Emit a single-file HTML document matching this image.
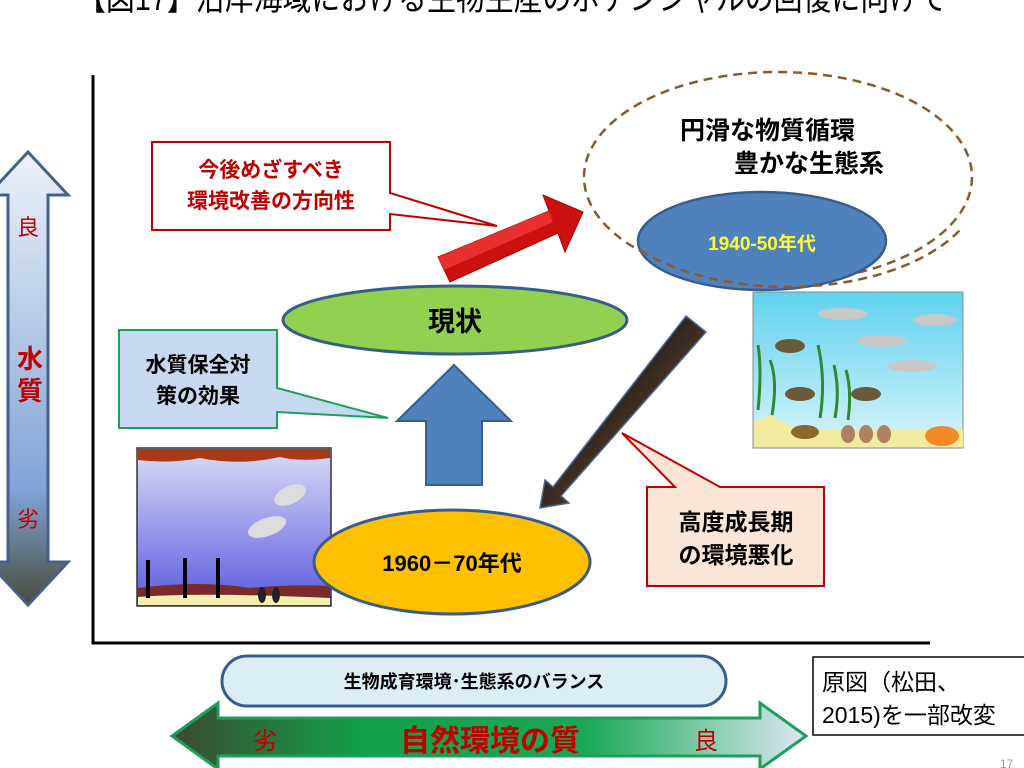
<!DOCTYPE html>
<html><head><meta charset="utf-8"><style>
html,body{margin:0;padding:0;background:#fff;width:1024px;height:768px;overflow:hidden}
svg{display:block}
text{font-family:"Liberation Sans","Noto Sans CJK JP",sans-serif;font-weight:bold}
text.n{font-weight:normal}
</style></head><body>
<svg width="1024" height="768" viewBox="0 0 1024 768" xmlns="http://www.w3.org/2000/svg">
<defs>
<linearGradient id="vg" x1="0" y1="0" x2="0" y2="1">
<stop offset="0" stop-color="#eef2fa"/><stop offset="0.75" stop-color="#7fa3d6"/><stop offset="1" stop-color="#4a4a3a"/></linearGradient>
<linearGradient id="hg" x1="0" y1="0" x2="1" y2="0">
<stop offset="0" stop-color="#3a4a30"/><stop offset="0.3" stop-color="#12a04a"/><stop offset="0.65" stop-color="#18a855"/><stop offset="1" stop-color="#dde8f2"/></linearGradient>
<linearGradient id="lw" x1="0" y1="0" x2="0" y2="1">
<stop offset="0" stop-color="#dcdcf6"/><stop offset="1" stop-color="#5a5ae0"/></linearGradient>
<linearGradient id="rw" x1="0" y1="0" x2="0" y2="1">
<stop offset="0" stop-color="#5fd2ee"/><stop offset="1" stop-color="#d8f4fb"/></linearGradient>
<linearGradient id="dg" x1="0" y1="0" x2="1" y2="1">
<stop offset="0" stop-color="#555a66"/><stop offset="0.4" stop-color="#222"/><stop offset="1" stop-color="#b05a1a"/></linearGradient>
</defs>
<text class="n" x="512" y="10" font-size="34" text-anchor="middle" fill="#000" textLength="870" lengthAdjust="spacingAndGlyphs">【図17】沿岸海域における生物生産のポテンシャルの回復に向けて</text>

<polygon points="28,152 68,195 48,195 48,562 68,562 28,605 -12,562 8,562 8,195 -12,195" fill="url(#vg)" stroke="#44618c" stroke-width="3"/>
<text class="n" x="28" y="235" font-size="22" fill="#c00000" text-anchor="middle">良</text>
<text x="30" y="368" font-size="26" fill="#c00000" text-anchor="middle">水</text>
<text x="30" y="400" font-size="26" fill="#c00000" text-anchor="middle">質</text>
<text class="n" x="28" y="527" font-size="22" fill="#c00000" text-anchor="middle">劣</text>

<polyline points="93,75 93,643 930,643" fill="none" stroke="#000" stroke-width="3"/>

<ellipse cx="778" cy="177" rx="194" ry="105" fill="none" stroke="#8b5a2b" stroke-width="2.5" stroke-dasharray="9,6"/>
<text x="680" y="139" font-size="25" fill="#000">円滑な物質循環</text>
<text x="734" y="172" font-size="25" fill="#000">豊かな生態系</text>
<ellipse cx="762" cy="241" rx="124" ry="49" fill="#4f81bd" stroke="#385d8a" stroke-width="2.5"/>
<path d="M640,250 A194,105 0 0 0 960,230" fill="none" stroke="#8b5a2b" stroke-width="2.5" stroke-dasharray="9,6"/>
<text x="762" y="250" font-size="19" fill="#ffff33" text-anchor="middle">1940-50年代</text>

<path d="M152,142 H390 V193 L497,226 L390,214 V230 H152 Z" fill="#fff" stroke="#c00000" stroke-width="2"/>
<text x="271" y="177" font-size="21" fill="#c00000" text-anchor="middle">今後めざすべき</text>
<text x="271" y="208" font-size="21" fill="#c00000" text-anchor="middle">環境改善の方向性</text>

<polygon points="438,257 549,211 543,195 583,212 565,252 558,233 450,282" fill="#cc1010" stroke="#a00" stroke-width="1"/>
<polygon points="438,257 549,211 553,222 444,270" fill="#e83030"/>

<ellipse cx="455" cy="320" rx="172" ry="34" fill="#92d050" stroke="#385d8a" stroke-width="3"/>
<text x="455" y="331" font-size="27" fill="#000" text-anchor="middle">現状</text>

<path d="M119,330 H277 V388 L388,418 L277,412 V428 H119 Z" fill="#c6d9f1" stroke="#1aa058" stroke-width="2"/>
<text x="198" y="372" font-size="21" fill="#000" text-anchor="middle">水質保全対</text>
<text x="198" y="403" font-size="21" fill="#000" text-anchor="middle">策の効果</text>

<polygon points="454,365 511,421 482,421 482,485 426,485 426,421 397,421" fill="#4f81bd" stroke="#385d8a" stroke-width="2"/>

<polygon points="686,316 706,332 561,496 569,503 540,508 545,480 553,487" fill="url(#dg)" stroke="#4a6a9a" stroke-width="1.5"/>

<path d="M647,487 H675 L622,433 L720,487 H824 V586 H647 Z" fill="#fbe5d6" stroke="#c00000" stroke-width="2"/>
<text x="736" y="530" font-size="23" fill="#000" text-anchor="middle">高度成長期</text>
<text x="736" y="563" font-size="23" fill="#000" text-anchor="middle">の環境悪化</text>

<rect x="137" y="448" width="194" height="158" fill="url(#lw)" stroke="#333" stroke-width="1.5"/>
<path d="M138,449 H330 V458 Q300,462 280,457 Q240,466 200,458 Q170,464 138,460 Z" fill="#a83a18"/>
<path d="M138,588 Q200,580 250,588 Q290,584 330,586 V605 H138 Z" fill="#7a2a2a"/>
<path d="M138,597 Q200,592 330,598 V605 H138 Z" fill="#f4f0b0"/>
<g stroke="#000" stroke-width="4"><line x1="148" y1="560" x2="148" y2="598"/><line x1="185" y1="558" x2="185" y2="598"/><line x1="218" y1="558" x2="218" y2="598"/></g>
<ellipse cx="262" cy="595" rx="4" ry="8" fill="#222"/><ellipse cx="276" cy="595" rx="4" ry="8" fill="#222"/>
<ellipse cx="290" cy="495" rx="17" ry="9" fill="#ddd" transform="rotate(-25 290 495)"/>
<ellipse cx="267" cy="527" rx="20" ry="9" fill="#ddd" transform="rotate(-20 267 527)"/>

<rect x="753" y="292" width="210" height="156" fill="url(#rw)" stroke="#888" stroke-width="1"/>
<path d="M754,422 L770,415 L800,430 Q860,428 963,430 V447 H754 Z" fill="#f1eba0"/>
<g stroke="#2d8a2d" stroke-width="3" fill="none"><path d="M758,410 Q762,370 758,345"/><path d="M772,415 Q778,380 770,360"/><path d="M820,418 Q826,380 818,345"/><path d="M835,418 Q840,390 834,365"/><path d="M848,420 Q852,390 846,370"/></g>
<g fill="#c8c8c8"><ellipse cx="843" cy="314" rx="25" ry="6"/><ellipse cx="935" cy="320" rx="22" ry="6"/><ellipse cx="882" cy="341" rx="25" ry="6"/><ellipse cx="912" cy="366" rx="25" ry="6"/></g>
<g fill="#6a5a3a"><ellipse cx="790" cy="346" rx="15" ry="7"/><ellipse cx="800" cy="394" rx="15" ry="7"/><ellipse cx="866" cy="394" rx="15" ry="7"/></g>
<g fill="#b08060"><ellipse cx="848" cy="434" rx="7" ry="9"/><ellipse cx="866" cy="434" rx="7" ry="9"/><ellipse cx="884" cy="434" rx="7" ry="9"/></g>
<ellipse cx="942" cy="436" rx="17" ry="10" fill="#f28a2a"/>
<ellipse cx="805" cy="432" rx="14" ry="7" fill="#8a6a2a"/>

<ellipse cx="452" cy="562" rx="138" ry="52" fill="#ffc000" stroke="#385d8a" stroke-width="3"/>
<text x="452" y="571" font-size="22" fill="#000" text-anchor="middle">1960－70年代</text>

<rect x="222" y="656" width="504" height="50" rx="25" fill="#dbeef4" stroke="#385d8a" stroke-width="3"/>
<text x="474" y="688" font-size="18" fill="#000" text-anchor="middle">生物成育環境･生態系のバランス</text>

<polygon points="172,736 218,703 218,718 760,718 760,703 806,736 760,769 760,756 218,756 218,769" fill="url(#hg)" stroke="#1aa058" stroke-width="3"/>
<text class="n" x="265" y="749" font-size="24" fill="#c00000" text-anchor="middle">劣</text>
<text x="490" y="751" font-size="30" fill="#c00000" text-anchor="middle">自然環境の質</text>
<text class="n" x="706" y="749" font-size="24" fill="#c00000" text-anchor="middle">良</text>

<rect x="813" y="657" width="220" height="78" fill="#fff" stroke="#000" stroke-width="1.5"/>
<text class="n" x="822" y="690" font-size="23" fill="#000">原図（松田、</text>
<text class="n" x="822" y="723" font-size="23" fill="#000">2015)を一部改変</text>
<text class="n" x="1000" y="768" font-size="12" fill="#999">17</text>
</svg>
</body></html>
